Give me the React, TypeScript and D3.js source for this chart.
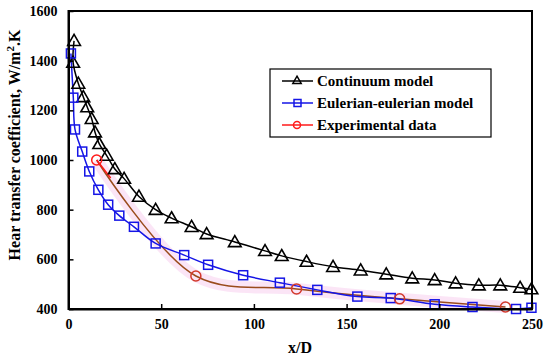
import React, { useRef, useEffect } from 'react';
import * as d3 from 'd3';

// Continuum model
const contX = [3, 2.5, 5.3, 8, 10.1, 12.5, 14.3, 16.6, 20.6, 25, 30, 38, 47, 55.6, 66.4, 74.5, 89.7, 106, 115, 128.4, 142.7, 157.6, 171.4, 185.4, 197.5, 208.8, 221.3, 232.9, 243.6, 249.7];
const contY = [1480, 1392, 1308, 1254, 1213, 1166, 1112, 1065, 1018, 964, 925, 853, 800, 766, 731, 702, 670, 634, 614, 591, 570, 556, 540, 524, 517, 504, 496, 496, 486, 480];

// Eulerian-eulerian model
const eulX = [1.3, 2.6, 3.5, 7.4, 11.2, 16.1, 21.4, 27.4, 35.3, 47, 62.4, 75.3, 94.2, 114, 134.2, 155.8, 173.8, 197.5, 217.9, 241.4, 249.7];
const eulY = [1429, 1251, 1123, 1034, 954, 880, 820, 776, 731, 664, 617, 578, 536, 506, 477, 450, 444, 419, 408, 400, 405];

// Experimental data
const expX = [15.2, 68.7, 123, 178.6, 235.7];
const expY = [1000, 533, 481, 441, 408];

const xTicks = [0, 50, 100, 150, 200, 250];
const yTicks = [400, 600, 800, 1000, 1200, 1400, 1600];

const legendItems = ['Continuum model', 'Eulerian-eulerian model', 'Experimental data'];

const W = 550, H = 361;
const font = '"Liberation Serif", "Times New Roman", serif';

function drawChart(ref) {
  const svg = d3.select(ref.current);
  svg.selectAll('*').remove();
  svg.style('font-family', font).style('font-weight', 'bold');

  const x = d3.scaleLinear().domain([0, 250]).range([68.5, 532]);
  const y = d3.scaleLinear().domain([400, 1600]).range([309, 11]);

  const g = svg.append('g');

  const curve = d3.curveCatmullRom.alpha(0.5);
  const line = d3.line().x((d) => x(d[0])).y((d) => y(d[1])).curve(curve);

  const cont = contX.map((v, i) => [v, contY[i]]);
  const eul = eulX.map((v, i) => [v, eulY[i]]);
  const exp = expX.map((v, i) => [v, expY[i]]);

  // faint pink band around experimental curve
  g.append('path')
   .attr('d', line(exp))
   .attr('fill', 'none')
   .attr('stroke', '#f7c6ea')
   .attr('stroke-opacity', 0.45)
   .attr('stroke-width', 12);

  // experimental fit (brown), red start
  g.append('path')
   .attr('d', line(exp))
   .attr('fill', 'none')
   .attr('stroke', '#9a4b1c')
   .attr('stroke-width', 1.5);
  g.append('path')
   .attr('d', d3.line()([[x(expX[0]), y(expY[0])], [x(expX[0]) + 14, y(expY[0]) + 18]]))
   .attr('stroke', '#ff1a1a')
   .attr('stroke-width', 1.5);

  g.append('path')
   .attr('d', line(eul))
   .attr('fill', 'none')
   .attr('stroke', '#1515e6')
   .attr('stroke-width', 1.5);

  g.append('path')
   .attr('d', line(cont))
   .attr('fill', 'none')
   .attr('stroke', '#000')
   .attr('stroke-width', 1.5);

  // markers
  const tri = d3.symbol().type(d3.symbolTriangle).size(70);
  g.selectAll('.tri').data(cont).join('path')
   .attr('transform', (d) => `translate(${x(d[0])},${y(d[1]) + 1})`)
   .attr('d', tri())
   .attr('fill', 'none')
   .attr('stroke', '#000')
   .attr('stroke-width', 1.6);

  g.selectAll('.sq').data(eul).join('rect')
   .attr('x', (d) => x(d[0]) - 4.5)
   .attr('y', (d) => y(d[1]) - 4.5)
   .attr('width', 9).attr('height', 9)
   .attr('fill', 'none')
   .attr('stroke', '#1515e6')
   .attr('stroke-width', 1.5);

  g.selectAll('.ci').data(exp).join('circle')
   .attr('cx', (d) => x(d[0]))
   .attr('cy', (d) => y(d[1]))
   .attr('r', 5)
   .attr('fill', 'none')
   .attr('stroke', (d, i) => (i === 0 ? '#ff1a1a' : '#d2382a'))
   .attr('stroke-width', 1.5);

  // frame
  g.append('rect')
   .attr('x', x(0)).attr('y', y(1600))
   .attr('width', x(250) - x(0)).attr('height', y(400) - y(1600))
   .attr('fill', 'none').attr('stroke', '#000').attr('stroke-width', 2);

  // axes
  const fmt = d3.format('d');
  const xAxis = g.append('g')
   .attr('transform', `translate(0,${y(400)})`)
   .call(d3.axisBottom(x).tickValues(xTicks).tickFormat(fmt).tickSizeInner(-5).tickSizeOuter(0).tickPadding(10));
  const yAxis = g.append('g')
   .attr('transform', `translate(${x(0)},0)`)
   .call(d3.axisLeft(y).tickValues(yTicks).tickFormat(fmt).tickSizeInner(-5).tickSizeOuter(0).tickPadding(11));
  [xAxis, yAxis].forEach((a) => {
    a.attr('font-family', font).attr('font-size', 14).attr('font-weight', 'bold');
    a.select('.domain').attr('stroke-width', 2);
    a.selectAll('line').attr('stroke-width', 1.5);
    a.selectAll('text')
     .style('font-family', font).style('font-weight', 'bold')
     .attr('font-size', 14).attr('fill', '#000');
  });

  // axis titles
  svg.append('text')
   .attr('x', 300).attr('y', 353)
   .attr('text-anchor', 'middle')
   .attr('font-size', 16)
   .text('x/D');

  const yl = svg.append('text')
   .attr('transform', 'translate(20,145) rotate(-90)')
   .attr('text-anchor', 'middle')
   .attr('font-size', 16);
  yl.append('tspan').text('Hear transfer coefficient, W/m');
  yl.append('tspan').attr('dy', -6).attr('font-size', 11).text('2');
  yl.append('tspan').attr('dy', 6).text('.K');

  // legend
  const lg = svg.append('g');
  lg.append('rect')
   .attr('x', 270).attr('y', 69).attr('width', 221).attr('height', 68)
   .attr('fill', '#fff').attr('stroke', '#000').attr('stroke-width', 1.2);
  const colors = ['#000', '#1515e6', '#ff1a1a'];
  legendItems.forEach((t, i) => {
    const yy = 81 + i * 22;
    lg.append('line')
     .attr('x1', 282).attr('x2', 313).attr('y1', yy).attr('y2', yy)
     .attr('stroke', colors[i]).attr('stroke-width', 1.5);
    if (i === 0) {
      lg.append('path').attr('transform', `translate(297,${yy})`)
        .attr('d', d3.symbol().type(d3.symbolTriangle).size(30)())
        .attr('fill', 'none').attr('stroke', '#000').attr('stroke-width', 1.5);
    } else if (i === 1) {
      lg.append('rect').attr('x', 294).attr('y', yy - 3.5).attr('width', 7).attr('height', 7)
        .attr('fill', 'none').attr('stroke', colors[i]).attr('stroke-width', 1.5);
    } else {
      lg.append('circle').attr('cx', 297).attr('cy', yy).attr('r', 3.5)
        .attr('fill', 'none').attr('stroke', colors[i]).attr('stroke-width', 1.5);
    }
    lg.append('text')
     .attr('x', 317).attr('y', yy + 5)
     .attr('font-size', 15)
     .text(t);
  });
}

export default function App() {
  const ref = useRef(null);
  useEffect(() => {
    drawChart(ref);
  }, []);
  return (
    <svg ref={ref} width={W} height={H} style={{ position: 'absolute', left: 0, top: 0, background: '#fff' }} />
  );
}
